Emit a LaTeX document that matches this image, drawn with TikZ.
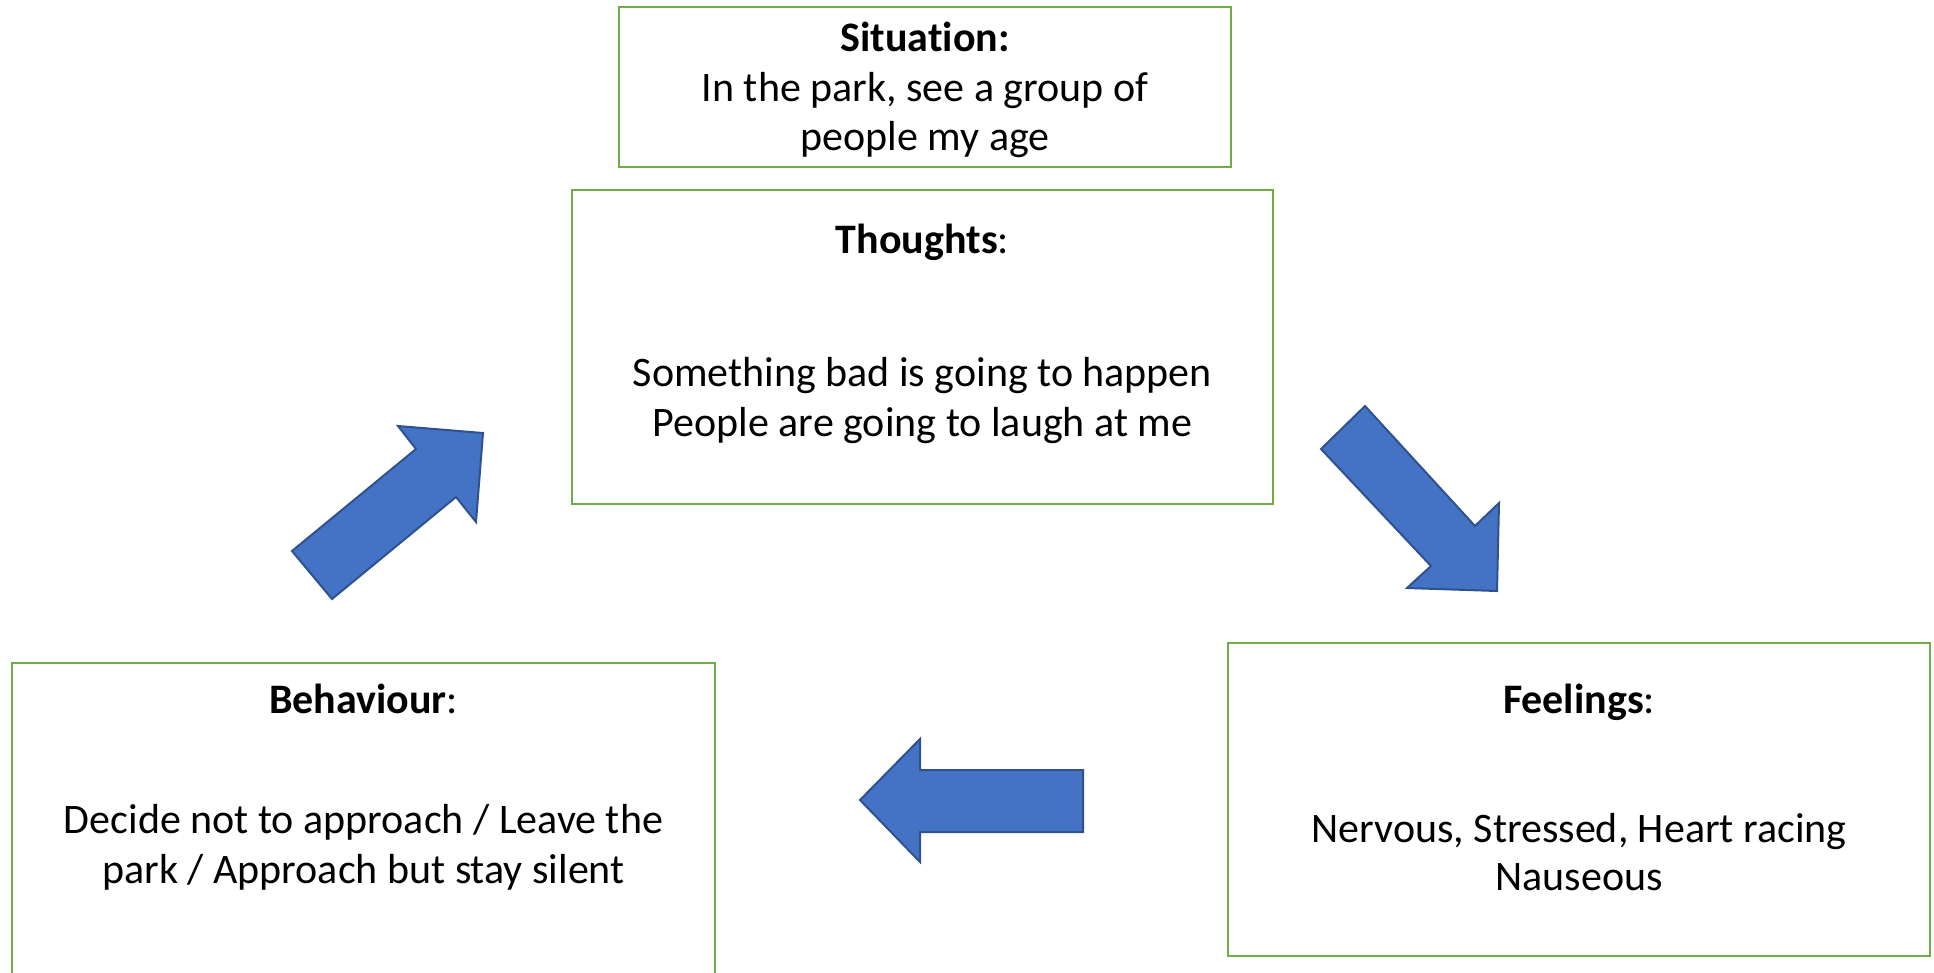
\documentclass[tikz,border=0pt]{standalone}
\usepackage{fontspec}
\setmainfont[Ligatures=NoCommon]{Carlito}
\definecolor{boxgreen}{HTML}{70AD47}
\definecolor{arrowfill}{HTML}{4472C4}
\definecolor{arrowline}{HTML}{2F528F}
\tikzset{
  cbox/.style={draw=boxgreen, line width=2.5pt, rectangle, inner sep=0pt},
  txt/.style={anchor=base, inner sep=0pt, font=\fontsize{42}{50}\selectfont},
  bigarrow/.style={fill=arrowfill, draw=arrowline, line width=2pt, line join=miter}
}
\begin{document}
\begin{tikzpicture}[x=1pt,y=-1pt]
\useasboundingbox (0,0) rectangle (1934,972);
\clip (0,0) rectangle (1934,972);
\fill[white] (0,0) rectangle (1934,972);

% Situation
\node[cbox, minimum width=612pt, minimum height=160pt] (sit) at (925,87) {};
\node[txt] (sith) at (925,51) {\textbf{Situation:}};
\node[txt] (sit1) at (925,101) {In the park, see a group of};
\node[txt] (sit2) at (925,150) {people my age};

% Thoughts
\node[cbox, minimum width=701pt, minimum height=314pt] (tho) at (922.5,347) {};
\node[txt] (thoh) at (922.5,253) {\textbf{Thoughts}:};
\node[txt] (tho1) at (922.5,386) {Something bad is going to happen};
\node[txt] (tho2) at (922.5,436) {People are going to laugh at me};

% Feelings
\node[cbox, minimum width=702pt, minimum height=313pt] (fee) at (1579,799.5) {};
\node[txt] (feeh) at (1579,713) {\textbf{Feelings}:};
\node[txt] (fee1) at (1579,842) {Nervous, Stressed, Heart racing};
\node[txt] (fee2) at (1579,890) {Nauseous};

% Behaviour (bottom edge lies outside the picture)
\node[cbox, minimum width=703pt, minimum height=340pt] (beh) at (363.5,833) {};
\node[txt] (behh) at (363.5,713) {\textbf{Behaviour}:};
\node[txt] (beh1) at (363.5,833) {Decide not to approach / Leave the};
\node[txt] (beh2) at (363.5,883) {park / Approach but stay silent};

% Block arrows
\draw[bigarrow] (1321,449) -- (1365,406) -- (1475,526) -- (1499,503) -- (1497,591) -- (1407,588) -- (1431,566) -- cycle;
\draw[bigarrow] (860,800) -- (920,739) -- (920,770) -- (1083,770) -- (1083,832) -- (920,832) -- (920,862) -- cycle;
\draw[bigarrow] (292,551) -- (416,449) -- (398,426) -- (483,433) -- (476,522) -- (456,497) -- (332,599) -- cycle;
\end{tikzpicture}
\end{document}
